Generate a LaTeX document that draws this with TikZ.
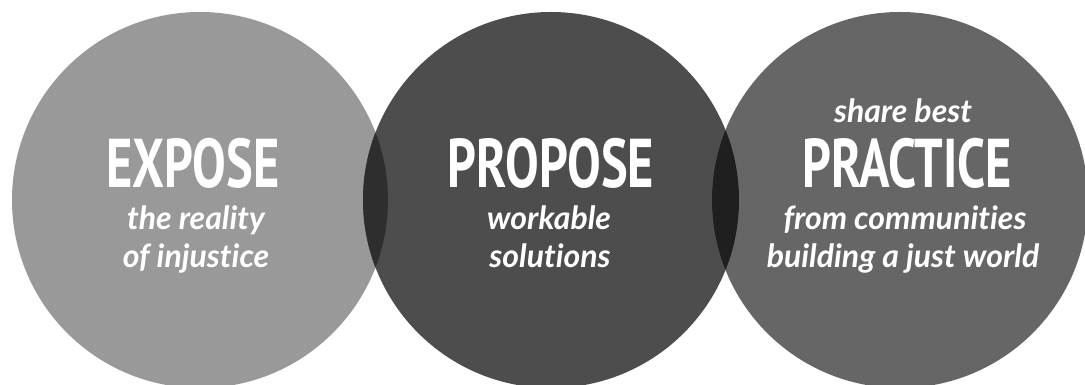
\documentclass[tikz,border=0pt]{standalone}
\usepackage{fontspec}
\setmainfont{Lato}[Ligatures={NoCommon,NoRare}]
\newfontfamily\headfont[FakeStretch=0.73]{PT Sans}
\usetikzlibrary{calc}

\definecolor{exposegray}{HTML}{999999}
\definecolor{proposegray}{HTML}{4D4D4D}
\definecolor{practicegray}{HTML}{666666}
\definecolor{lensleft}{HTML}{2E2E2E}
\definecolor{lensright}{HTML}{1F1F1F}

\tikzset{
	bubble/.style={circle, minimum size=376pt, inner sep=0pt, outer sep=0pt},
	heading/.style={text=white, anchor=base, inner sep=0pt, font=\headfont\bfseries\fontsize{69}{69}\selectfont},
	tagline/.style={text=white, anchor=base, inner sep=0pt, font=\bfseries\itshape\fontsize{32}{32}\selectfont}
}

\begin{document}
\begin{tikzpicture}[x=1pt,y=1pt]
		\useasboundingbox (0,0) rectangle (1085,385);
		\clip (0,0) rectangle (1085,385);

		%circles
		\node at (200,185) (expose) [bubble, fill=exposegray] {};
		\node at (551,185) (propose) [bubble, fill=proposegray] {};
		\node at (900,185) (practice) [bubble, fill=practicegray] {};

		%overlaps
		\begin{scope}
			\clip (expose.center) circle (188pt);
			\fill [lensleft] (propose.center) circle (188pt);
		\end{scope}
		\begin{scope}
			\clip (propose.center) circle (188pt);
			\fill [lensright] (practice.center) circle (188pt);
		\end{scope}

		%text
		\node at (193,197) (exposetitle) [heading] {EXPOSE};
		\node at (196,155) (exposeone) [tagline] {the reality};
		\node at (196,117) (exposetwo) [tagline] {of injustice};

		\node at (551,197) (proposetitle) [heading] {PROPOSE};
		\node at (549,155) (proposeone) [tagline] {workable};
		\node at (550,117) (proposetwo) [tagline] {solutions};

		\node at (903,262) (practicetop) [tagline] {share best};
		\node at (907,197) (practicetitle) [heading] {PRACTICE};
		\node at (905,155) (practiceone) [tagline] {from communities};
		\node at (903,117) (practicetwo) [tagline] {building a just world};
\end{tikzpicture}
\end{document}
